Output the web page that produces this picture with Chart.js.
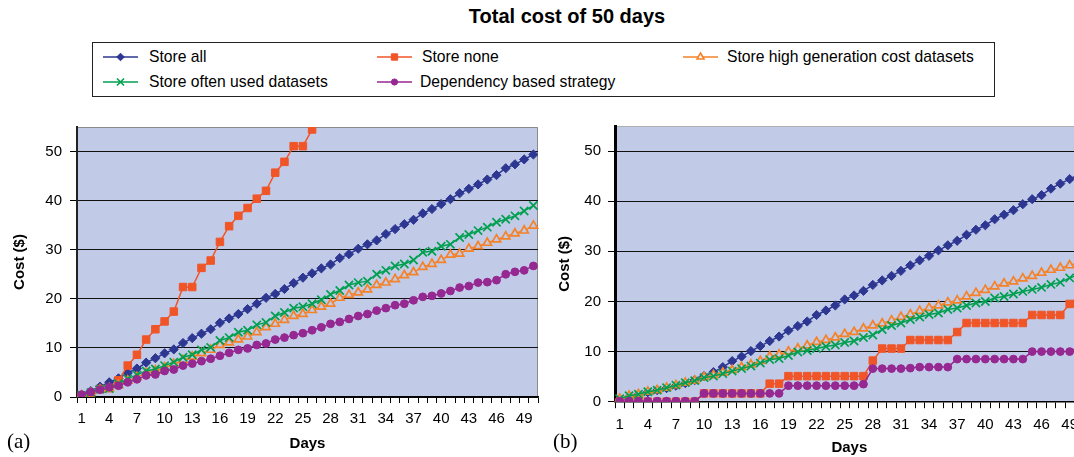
<!DOCTYPE html>
<html>
<head>
<meta charset="utf-8">
<script src="https://cdn.jsdelivr.net/npm/chart.js@4.4.0/dist/chart.umd.min.js"></script>
<style>
  html, body { margin: 0; padding: 0; background: #fff; }
  body { width: 1074px; height: 457px; position: relative; overflow: hidden; font-family: "Liberation Sans", Arial, sans-serif; color: #000; }
  .title { position: absolute; left: 367px; width: 400px; top: 5px; text-align: center; font-weight: bold; font-size: 20px; line-height: 22px; }
  .legend { position: absolute; left: 92px; top: 42px; width: 903px; height: 55px; border: 1.5px solid #222; box-sizing: border-box; }
  .item { position: absolute; font-size: 15.7px; line-height: 18px; white-space: nowrap; }
  .icon { position: absolute; }
  .panel { position: absolute; font-family: "Liberation Serif", "Times New Roman", serif; font-size: 21px; line-height: 24px; }
  #chartA { position: absolute; left: 0; top: 110px; }
  #chartB { position: absolute; left: 540px; top: 110px; }
</style>
</head>
<body>
<div class="title">Total cost of 50 days</div>
<div class="legend"></div>
<div id="legendItems"></div>
<canvas id="chartA" width="548" height="347"></canvas>
<canvas id="chartB" width="560" height="347"></canvas>
<div class="panel" style="left:7px; top:429px;">(a)</div>
<div class="panel" style="left:553px; top:429px;">(b)</div>

<script>
// days on the x axis and the ones that get a label
const days = [1,2,3,4,5,6,7,8,9,10,11,12,13,14,15,16,17,18,19,20,21,22,23,24,25,
              26,27,28,29,30,31,32,33,34,35,36,37,38,39,40,41,42,43,44,45,46,47,48,49,50];
const shownDays = [1,4,7,10,13,16,19,22,25,28,31,34,37,40,43,46,49];
const costTicks = [0,10,20,30,40,50];

// (a)
const storeAllA = [0.4,1.2,2.1,3.0,3.8,4.9,5.8,7.0,7.9,8.9, 9.7,11.0,12.0,12.9,13.8,15.1,16.0,16.9,17.9,19.0,
                   20.2,21.0,22.0,23.2,24.3,25.2,26.2,27.0,28.3,29.1, 30.2,31.1,31.9,33.2,34.2,35.2,36.1,37.4,38.3,39.3,
                   40.3,41.5,42.4,43.3,44.3,45.2,46.6,47.4,48.4,49.4];
const storeNoneA = [0.1,0.1,1.6,1.8,3.4,6.4,8.6,11.7,13.8,15.4, 17.4,22.4,22.4,26.3,27.8,31.6,34.8,36.9,38.5,40.4,
                    42.0,45.7,47.9,51.1,51.1,54.5,56.3];
const highGenA = [0.3,0.8,1.5,1.8,2.4,3.3,4.0,4.9,5.4,6.0, 6.7,7.5,8.2,8.9,9.6,10.6,11.1,11.7,12.3,13.2,
                  14.2,14.9,15.7,16.5,16.9,17.7,18.4,19.0,20.2,20.8, 21.3,21.9,22.8,23.3,24.0,24.8,25.4,26.5,27.1,27.9,
                  29.0,29.2,30.2,30.7,31.4,32.1,32.7,33.3,33.9,34.9];
const oftenUsedA = [0.3,0.9,1.6,1.7,2.7,3.7,4.5,5.3,5.7,6.4, 7.1,8.1,8.6,9.6,10.1,11.5,12.1,13.2,13.6,14.7,
                    15.2,16.5,17.2,18.1,18.4,19.0,19.8,20.9,21.7,22.8, 23.3,23.6,25.0,25.8,26.7,27.1,27.9,29.5,29.7,30.7,
                    31.1,32.5,33.1,33.9,34.6,35.6,36.2,36.9,37.9,39.0];
const dependencyA = [0.5,1.0,1.5,2.0,2.3,3.0,3.6,4.4,4.6,5.3, 5.6,6.4,6.8,7.3,7.8,8.4,9.0,9.6,9.9,10.6,
                     10.9,11.7,12.1,12.6,13.0,13.6,14.2,14.9,15.3,15.9, 16.5,16.9,17.6,18.1,18.7,19.0,19.7,20.4,20.6,21.1,
                     21.6,22.3,22.6,23.3,23.4,23.8,25.0,25.5,25.8,26.7];

// (b)
const storeAllB = [0.4,0.9,1.4,1.9,2.3,2.7,3.2,3.7,4.3,5.1, 5.9,6.9,8.1,9.0,10.1,11.1,12.1,13.0,14.2,15.1,
                   16.0,17.3,18.2,19.2,20.4,21.2,22.1,23.3,24.2,25.1, 26.1,27.2,28.2,29.1,30.2,31.2,32.1,33.3,34.3,35.2,
                   36.4,37.3,38.2,39.4,40.4,41.2,42.5,43.5,44.4,45.4];
const storeNoneB = [0,0,0,0,0,0,0,0,0,1.66, 1.66,1.66,1.66,1.66,1.66,1.66,3.6,3.6,5.1,5.1,
                    5.1,5.1,5.1,5.1,5.1,5.1,5.1,8.2,10.6,10.6, 10.6,12.3,12.3,12.3,12.3,12.3,13.9,15.7,15.7,15.7,
                    15.7,15.7,15.7,15.7,17.3,17.3,17.3,17.3,19.5,21.2];
const highGenB = [0.6,1.2,1.5,2.0,2.3,2.8,3.3,3.8,4.2,4.9, 5.3,5.8,6.3,6.9,7.4,8.1,9.0,9.4,10.0,10.6,
                  11.2,11.9,12.3,12.8,13.5,13.9,14.6,15.2,15.6,16.2, 16.9,17.4,18.1,18.7,19.2,19.8,20.2,21.0,21.7,22.3,
                  23.0,23.6,24.0,24.6,25.1,25.7,26.3,26.7,27.2,27.8];
const oftenUsedB = [0.6,1.2,1.5,2.0,2.3,2.8,3.3,3.8,4.2,4.8, 5.1,5.6,6.1,6.6,7.1,7.7,8.4,8.6,9.2,9.9,
                    10.2,10.6,11.0,11.3,11.8,12.1,12.8,13.3,14.4,15.2, 15.7,16.4,16.9,17.4,17.7,18.4,18.7,19.2,19.7,20.0,
                    20.7,21.0,21.5,22.0,22.4,22.8,23.4,23.8,24.7,25.3];
const dependencyB = [0.1,0.1,0.1,0.1,0.1,0.1,0.1,0.1,0.1,1.66, 1.66,1.66,1.66,1.66,1.66,1.66,1.66,1.66,3.2,3.2,
                     3.2,3.2,3.2,3.2,3.2,3.2,3.5,6.6,6.6,6.6, 6.6,6.7,6.9,6.9,6.9,6.9,8.5,8.5,8.5,8.5,
                     8.5,8.5,8.5,8.5,10.0,10.0,10.0,10.0,10.0,11.0];

const plotBg = '#C1CBE7';

// line styles, in legend order; `order` puts purple on top and blue at the bottom
const styles = [
  { label: 'Store all', color: '#2D3792', pointStyle: 'rectRot', radius: 4.6, fill: '#2D3792', order: 5 },
  { label: 'Store none', color: '#F05528', pointStyle: 'rect', radius: 5.3, fill: '#F05528', order: 4 },
  { label: 'Store high generation cost datasets', color: '#F58228', pointStyle: 'triangle', radius: 4.8, fill: plotBg, order: 3 },
  { label: 'Store often used datasets', color: '#00A050', pointStyle: 'crossRot', radius: 5.8, fill: '#00A050', order: 2 },
  { label: 'Dependency based strategy', color: '#962891', pointStyle: 'circle', radius: 3.9, fill: '#962891', order: 1 }
];

Chart.defaults.font.family = '"Liberation Sans", Arial, sans-serif';
Chart.defaults.color = '#000';

const plotBackground = {
  id: 'plotBackground',
  beforeDraw(chart, args, opts) {
    const { ctx, chartArea: a } = chart;
    ctx.save();
    ctx.fillStyle = plotBg;
    ctx.fillRect(a.left, a.top, a.right - a.left, a.bottom - a.top);
    ctx.strokeStyle = opts.edge;
    ctx.lineWidth = 1;
    ctx.beginPath();
    ctx.moveTo(a.left, Math.round(a.top) + 0.5);
    ctx.lineTo(Math.round(a.right) - 0.5, Math.round(a.top) + 0.5);
    ctx.lineTo(Math.round(a.right) - 0.5, a.bottom);
    ctx.stroke();
    ctx.restore();
  }
};

function makeDatasets(values) {
  return values.map((v, i) => {
    const s = styles[i];
    return {
      label: s.label,
      data: v,
      order: s.order,
      borderColor: s.color,
      borderWidth: 1.5,
      pointStyle: s.pointStyle,
      pointRadius: s.radius,
      pointBackgroundColor: s.fill,
      pointBorderColor: s.color,
      pointBorderWidth: s.pointStyle === 'rectRot' || s.pointStyle === 'rect' || s.pointStyle === 'circle' ? 1 : 1.7,
      tension: 0
    };
  });
}

function makeChart(id, values, g) {
  return new Chart(document.getElementById(id), {
    type: 'line',
    data: { labels: days, datasets: makeDatasets(values) },
    plugins: [plotBackground],
    options: {
      responsive: false,
      animation: false,
      events: [],
      layout: { padding: { top: g.top, right: g.right, left: 0, bottom: 0 } },
      plugins: {
        legend: { display: false },
        tooltip: { enabled: false },
        plotBackground: { edge: g.edge }
      },
      scales: {
        x: {
          type: 'category',
          offset: true,
          grid: { offset: true, drawOnChartArea: false, drawTicks: true, tickLength: g.xTick, tickColor: '#000', tickWidth: 1 },
          border: { color: '#000', width: 1.5 },
          ticks: {
            autoSkip: false, maxRotation: 0, minRotation: 0, padding: g.xPad,
            font: { size: 15 },
            callback: (v, i) => shownDays.includes(days[i]) ? String(days[i]) : ''
          },
          title: { display: true, text: 'Days', font: { size: 15, weight: 'bold' }, padding: { top: 0, bottom: g.daysPad } },
          afterFit: s => { s.height = g.xHeight; }
        },
        y: {
          min: 0,
          max: 55,
          afterBuildTicks: s => { s.ticks = costTicks.map(v => ({ value: v })); },
          ticks: { padding: g.yPad, font: { size: 15 } },
          grid: { color: '#111', lineWidth: 1, drawTicks: true, tickLength: 7, tickColor: '#000' },
          border: { color: g.axisColor, width: g.axisWidth },
          title: { display: true, text: 'Cost ($)', font: { size: 15, weight: 'bold' }, padding: { top: g.costPad, bottom: 0 } },
          afterFit: s => { s.width = g.yWidth; }
        }
      }
    }
  });
}

makeChart('chartA', [storeAllA, storeNoneA, highGenA, oftenUsedA, dependencyA], {
  top: 15, right: 10, yWidth: 77, xHeight: 60, xTick: 6, xPad: 7, yPad: 8,
  daysPad: 4, costPad: 11, axisColor: '#222', axisWidth: 2, edge: '#8a8a8a'
});

makeChart('chartB', [storeAllB, storeNoneB, highGenB, oftenUsedB, dependencyB], {
  top: 11.7, right: 16.25, yWidth: 75, xHeight: 55.3, xTick: 6.5, xPad: 8, yPad: 7,
  daysPad: 0, costPad: 16, axisColor: '#000', axisWidth: 3, edge: '#b0b0b0'
});

// legend entries: [line start x, text x, row centre y]
const legendSpots = [[103, 149, 57], [377, 422, 57], [683, 727, 57], [103, 149, 81.5], [377, 420, 81.5]];
const holder = document.getElementById('legendItems');
styles.forEach((s, i) => {
  const [lx, tx, cy] = legendSpots[i];
  const c = document.createElement('canvas');
  c.width = 36; c.height = 14;
  c.className = 'icon';
  c.style.left = lx + 'px';
  c.style.top = (cy - 7) + 'px';
  const ctx = c.getContext('2d');
  ctx.strokeStyle = s.color;
  ctx.lineWidth = 1.5;
  ctx.beginPath(); ctx.moveTo(0, 7); ctx.lineTo(35, 7); ctx.stroke();
  ctx.fillStyle = s.pointStyle === 'triangle' ? '#fff' : s.fill;
  ctx.lineWidth = s.pointStyle === 'crossRot' || s.pointStyle === 'triangle' ? 1.6 : 1;
  Chart.helpers.drawPoint(ctx, { pointStyle: s.pointStyle, radius: s.radius - 0.8, rotation: 0, borderWidth: ctx.lineWidth }, 17.5, 7);
  holder.appendChild(c);

  const t = document.createElement('div');
  t.className = 'item';
  t.style.left = tx + 'px';
  t.style.top = (cy - 8.8) + 'px';
  t.textContent = s.label;
  holder.appendChild(t);
});
</script>
</body>
</html>
